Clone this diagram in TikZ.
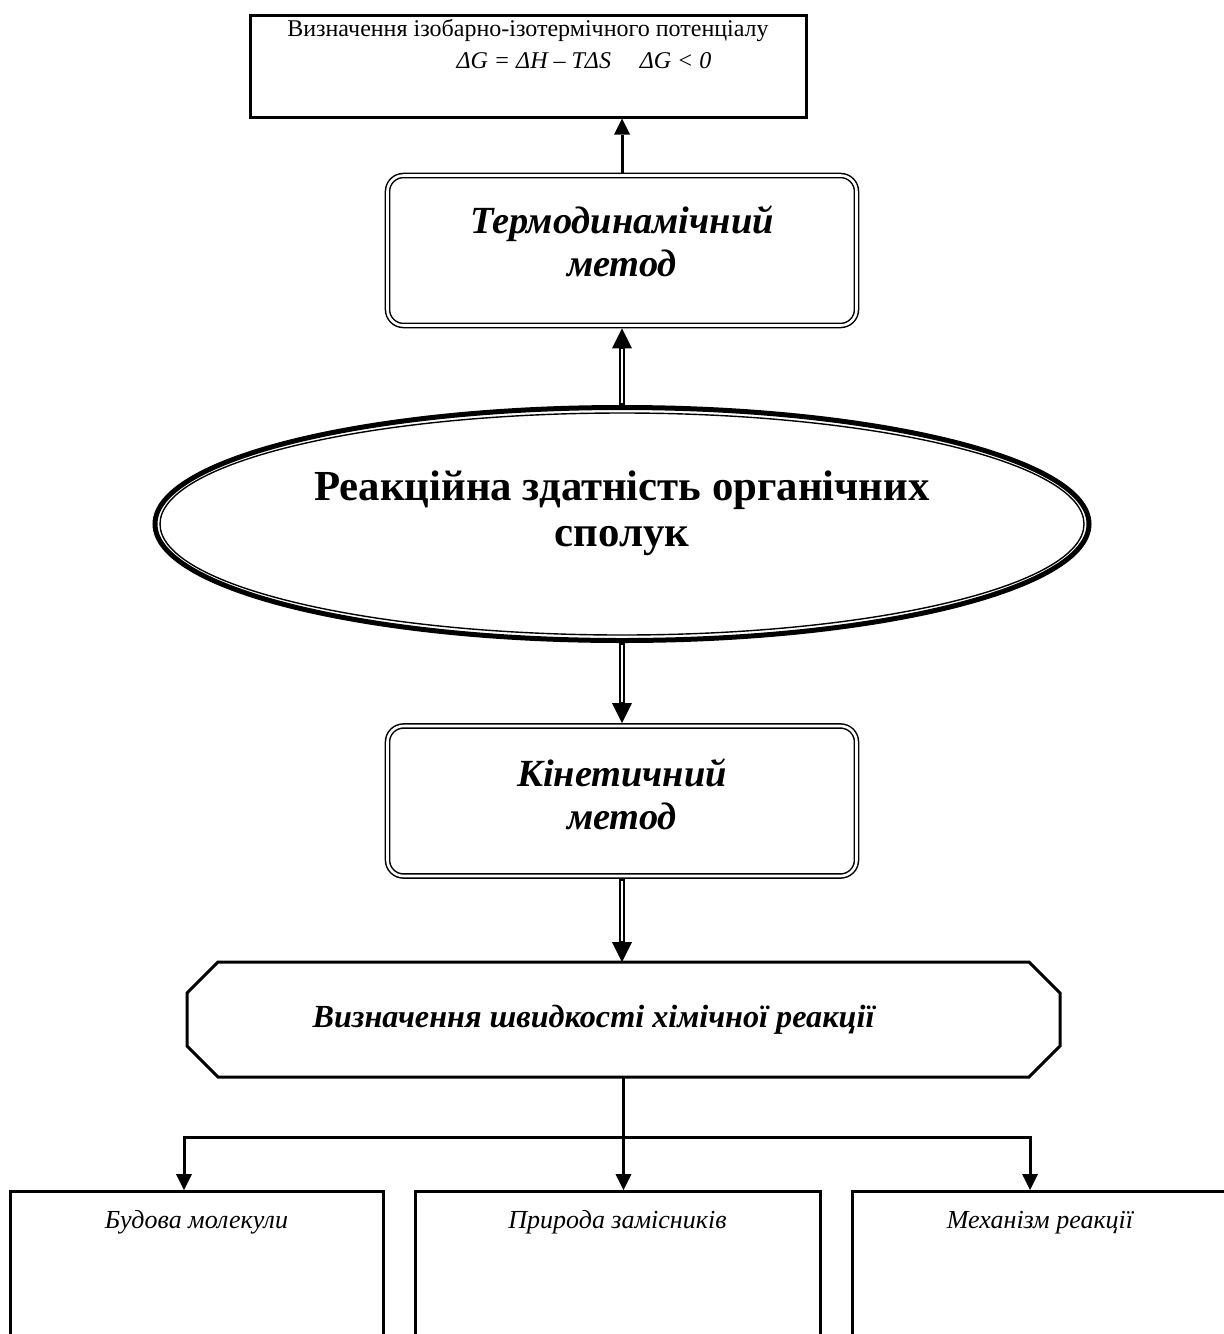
\documentclass[tikz,border=0pt]{standalone}
\usepackage{fontspec}
\setmainfont{Liberation Serif}
\usetikzlibrary{arrows.meta,calc,shapes.geometric}
\tikzset{
    scheme/.style     = {x=0.5pt, y=-0.5pt},
    frame/.style      = {draw, line width=1.5pt},
    plainbox/.style   = {frame, minimum width=278pt, minimum height=51pt,
                         align=center, inner ysep=2pt, text depth=22pt,
                         font=\fontsize{12}{16}\selectfont},
    methodbox/.style  = {draw, double, double distance=1.3pt,
                         line width=0.75pt, rounded corners=8pt,
                         outer sep=1.4pt,
                         minimum width=234.5pt, minimum height=75pt,
                         align=center,
                         font=\fontsize{19.2}{21.5}\selectfont\bfseries\itshape},
    titlebox/.style   = {ellipse, draw, line width=2.5pt,
                         minimum width=467pt, minimum height=116.5pt,
                         align=center, text depth=15pt,
                         font=\fontsize{21.4}{23}\selectfont\bfseries},
    ratebox/.style    = {rectangle, outer sep=0pt,
                         minimum width=436.5pt, minimum height=57.5pt,
                         font=\fontsize{16.1}{18}\selectfont\bfseries\itshape},
    factor/.style     = {frame, anchor=north, minimum height=150pt,
                         text height=9pt, text depth=122pt,
                         font=\fontsize{13}{16}\selectfont\itshape},
    arrow/.style      = {line width=1.5pt,
                         -{Triangle[length=8pt, width=8pt, line width=0pt]}},
    dblarrow/.style   = {line width=3.2pt,
                         -{Triangle[length=10pt, width=10pt, line width=0pt]},
                         postaction={draw=white, line width=1.4pt, -,
                                     shorten >=10.5pt, shorten <=1.2pt}}
}

\begin{document}
\begin{tikzpicture}[scheme]
\useasboundingbox (0,0) rectangle (1224,1334);

% ================= Gibbs potential =================
\node[plainbox] (gibbs) at (528, 66)
    {Визначення ізобарно-ізотермічного потенціалу\\
     \hspace*{56pt}\textit{ΔG = ΔH – TΔS\hspace{1.2em}ΔG < 0}};

% ================= Thermodynamic method =================
\node[methodbox, text depth=9.5pt] (thermo) at (622, 250.5)
    {Термодинамічний\\метод};
\draw[arrow] (thermo.north) -- (thermo.north |- gibbs.south);

% ================= Central ellipse =================
\node[titlebox] (title) at (622, 524)
    {Реакційна здатність органічних\\сполук};
\draw[line width=0.7pt] (title.center) ellipse [x radius=231pt, y radius=55.5pt];
\draw[dblarrow] (title.north) -- (thermo.south);

% ================= Kinetic method =================
\node[methodbox, text depth=6.5pt] (kinetic) at (622, 801) {Кінетичний\\метод};
\draw[dblarrow] (title.south) -- (kinetic.north);

% ================= Reaction rate =================
\node[ratebox] (rate) at (623.5, 1019.5)
    {\hspace*{-30pt}Визначення швидкості хімічної реакції};
\draw[frame] ($(rate.north west)+(15.5pt,0)$) -- ($(rate.north east)+(-15.5pt,0)$)
    -- ($(rate.north east)+(0,-15.5pt)$) -- ($(rate.south east)+(0,15.5pt)$)
    -- ($(rate.south east)+(-15.5pt,0)$) -- ($(rate.south west)+(15.5pt,0)$)
    -- ($(rate.south west)+(0,15.5pt)$) -- ($(rate.north west)+(0,-15.5pt)$)
    -- cycle;
\draw[dblarrow] (kinetic.south) -- (kinetic.south |- rate.north);

% ================= Factors =================
\node[factor, minimum width=186.5pt] (structure) at (196.5, 1190) {Будова молекули};
\node[factor, minimum width=202.5pt] (subst) at (617.5, 1190) {Природа замісників};
\node[factor, minimum width=188pt] (mechanism) at (1040, 1190) {Механізм реакції};

\coordinate (lft) at (184, 1137);
\coordinate (rgt) at (1030, 1137);
\coordinate (split) at (rate.south |- lft);
\draw[arrow] (rate.south) -- (rate.south |- subst.north);
\draw[arrow] (split) -- (lft) -- (lft |- structure.north);
\draw[arrow] (split) -- (rgt) -- (rgt |- mechanism.north);

\end{tikzpicture}
\end{document}
